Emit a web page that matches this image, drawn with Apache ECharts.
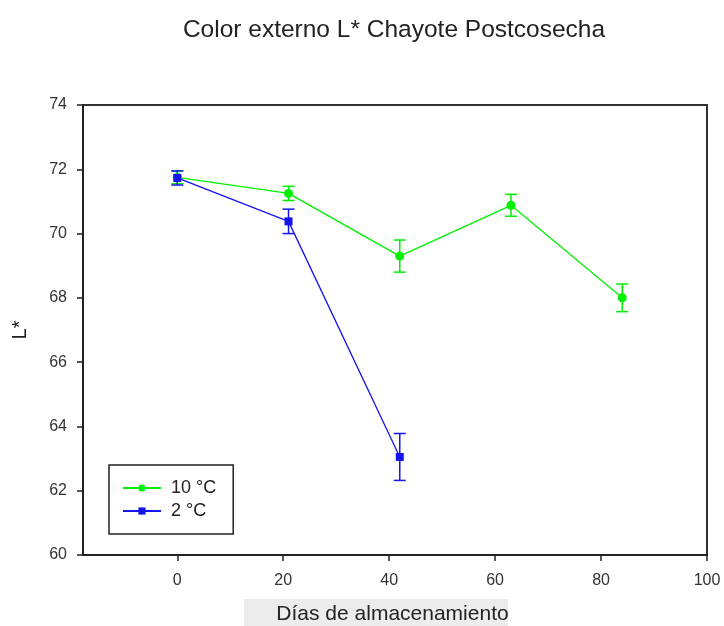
<!DOCTYPE html>
<html>
<head>
<meta charset="utf-8">
<script src="https://cdn.jsdelivr.net/npm/echarts@6/dist/echarts.min.js"></script>
<style>
  html, body { margin: 0; padding: 0; background: #fff; }
  #chart { width: 724px; height: 626px; }
</style>
</head>
<body>
<div id="chart"></div>
<script>
// Storage days and mean L* values with their error margins
const days10 = [0, 21, 42, 63, 84];
const mean10 = [71.75, 71.25, 69.3, 70.88, 68.0];
const err10  = [0.2, 0.22, 0.5, 0.34, 0.43];

const days2 = [0, 21, 42];
const mean2 = [71.73, 70.38, 63.05];
const err2  = [0.22, 0.38, 0.73];

const xTicks = [0, 20, 40, 60, 80, 100];

const GREEN = '#00f000';
const BLUE = '#1414f0';
const FONT = '"Liberation Sans", Arial, sans-serif';

function pairs(xs, ys) { return xs.map((x, i) => [x, ys[i]]); }
function errData(xs, ys, es) { return xs.map((x, i) => [x, ys[i] - es[i], ys[i] + es[i]]); }

// Vertical error bar with short caps at both ends
function errorBar(color) {
  return function (params, api) {
    const x = api.value(0);
    const lo = api.coord([x, api.value(1)]);
    const hi = api.coord([x, api.value(2)]);
    const w = 6;
    const style = { stroke: color, lineWidth: 1.5 };
    return {
      type: 'group',
      children: [
        { type: 'line', shape: { x1: lo[0], y1: lo[1], x2: hi[0], y2: hi[1] }, style },
        { type: 'line', shape: { x1: lo[0] - w, y1: lo[1], x2: lo[0] + w, y2: lo[1] }, style },
        { type: 'line', shape: { x1: hi[0] - w, y1: hi[1], x2: hi[0] + w, y2: hi[1] }, style }
      ]
    };
  };
}

const chart = echarts.init(document.getElementById('chart'));
chart.setOption({
  animation: false,
  backgroundColor: '#fff',
  title: {
    text: 'Color externo L* Chayote Postcosecha',
    left: 389, top: 13, textAlign: 'center',
    textStyle: { fontFamily: FONT, fontSize: 24.5, fontWeight: 'normal', color: '#222' }
  },
  grid: {
    left: 83, right: 17, top: 105, bottom: 71,
    outerBoundsMode: 'none',
    show: true, borderColor: '#333', borderWidth: 2, backgroundColor: 'transparent'
  },
  legend: {
    orient: 'vertical',
    left: 109, top: 465,
    padding: [14, 17, 14, 13],
    borderColor: '#222', borderWidth: 1.5,
    itemWidth: 38, itemHeight: 9, itemGap: 5,
    textStyle: { fontFamily: FONT, fontSize: 18, color: '#222', padding: [0, 0, 0, 5] },
    data: ['10 °C', '2 °C']
  },
  xAxis: {
    type: 'value', min: -17.8, max: 100,
    axisLine: { onZero: false, lineStyle: { color: '#222', width: 2 } },
    axisTick: { show: true, length: 6, lineStyle: { color: '#222', width: 1.5 }, customValues: xTicks },
    axisLabel: { customValues: xTicks, fontFamily: FONT, fontSize: 16, color: '#333', margin: 18 },
    splitLine: { show: false },
    name: '{t|Días de almacenamiento}{s|}',
    nameLocation: 'middle', nameGap: 44,
    nameTextStyle: {
      rich: {
        t: {
          fontFamily: FONT, fontSize: 21, color: '#222',
          backgroundColor: '#ececec',
          padding: [5, 0, 6, 33], width: 231
        },
        s: { width: 38 }
      }
    }
  },
  yAxis: {
    type: 'value', min: 60, max: 74, interval: 2,
    axisLine: { show: true, onZero: false, lineStyle: { color: '#222', width: 2 } },
    axisTick: { show: true, length: 6, lineStyle: { color: '#222', width: 1.5 } },
    axisLabel: { fontFamily: FONT, fontSize: 16, color: '#333', margin: 16 },
    splitLine: { show: false },
    name: 'L*', nameLocation: 'middle', nameGap: 53, nameRotate: 90,
    nameTextStyle: { fontFamily: FONT, fontSize: 20, color: '#222' }
  },
  series: [
    {
      name: '10 °C', type: 'line', data: pairs(days10, mean10),
      symbol: 'circle', symbolSize: 9,
      lineStyle: { color: GREEN, width: 1.3 }, itemStyle: { color: GREEN }, z: 3
    },
    {
      name: '2 °C', type: 'line', data: pairs(days2, mean2),
      symbol: 'rect', symbolSize: 8,
      lineStyle: { color: BLUE, width: 1.3 }, itemStyle: { color: BLUE }, z: 4
    },
    {
      type: 'custom', data: errData(days10, mean10, err10),
      renderItem: errorBar(GREEN), z: 2, encode: { x: 0, y: [1, 2] }
    },
    {
      type: 'custom', data: errData(days2, mean2, err2),
      renderItem: errorBar(BLUE), z: 2, encode: { x: 0, y: [1, 2] }
    }
  ]
});
</script>
</body>
</html>
